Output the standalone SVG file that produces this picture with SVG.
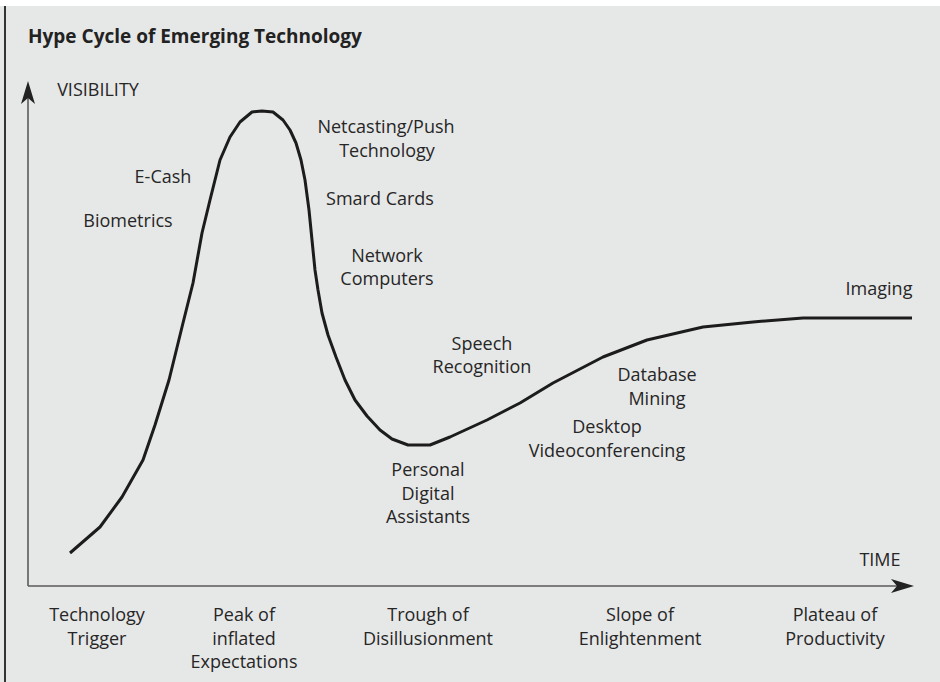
<svg xmlns="http://www.w3.org/2000/svg" width="940" height="682" viewBox="0 0 940 682">
<defs>
<style>
.lbl{font-family:"Open Sans","Noto Sans","Liberation Sans",sans-serif;font-size:18px;fill:#262626;text-anchor:middle}
.ttl{font-family:"Open Sans","Noto Sans","Liberation Sans",sans-serif;font-size:19px;font-weight:bold;fill:#222}
.axis{stroke:#5a5a5a;stroke-width:1.6;fill:none}
.curve{stroke:#1c1c1c;stroke-width:3;fill:none;stroke-linejoin:round;stroke-linecap:butt}
</style>
<marker id="arr" viewBox="-24 -8 26 16" markerWidth="26" markerHeight="16" refX="-11" refY="0" orient="auto" markerUnits="userSpaceOnUse">
<path d="M0,0 L-23,-7 L-17,0 L-23,7 Z" fill="#222"/>
</marker>
</defs>
<rect x="0" y="0" width="940" height="682" fill="#ffffff"/>
<rect x="0" y="6" width="940" height="676" fill="#e6e8e7"/>
<line x1="5" y1="6" x2="5" y2="682" stroke="#333" stroke-width="2"/>
<text class="ttl" x="28" y="43">Hype Cycle of Emerging Technology</text>
<g id="connectors">
<line class="axis" x1="28" y1="586" x2="28" y2="92" marker-end="url(#arr)"/>
<line class="axis" x1="28" y1="586" x2="903" y2="586" marker-end="url(#arr)"/>
<polyline class="curve" points="70,553 100,527 122,497 143,460 155,425 169,380 183,323 193,283 202,233 210,200 220,160 230,137 240,122 252,112 262,111 273,112 283,120 290,130 296,143 301,160 305,180 309,210 312,240 315,270 318,290 322,313 328,335 336,357 345,380 355,400 367,416 380,430 392,439 408,445 430,445 450,437 487,420 520,403 553,383 603,357 647,340 703,327 753,322 803,318 912,318"/>
</g>
<g id="axis-labels">
<text class="lbl" x="98" y="96">VISIBILITY</text>
<text class="lbl" x="880" y="566">TIME</text>
</g>
<g id="tech-labels">
<g id="netcasting"><text class="lbl" x="386" y="133">Netcasting/Push</text><text class="lbl" x="387" y="157">Technology</text></g>
<g id="smartcards"><text class="lbl" x="380" y="205">Smard Cards</text></g>
<g id="ecash"><text class="lbl" x="163" y="183">E-Cash</text></g>
<g id="biometrics"><text class="lbl" x="128" y="227">Biometrics</text></g>
<g id="netcomputers"><text class="lbl" x="387" y="262">Network</text><text class="lbl" x="387" y="285">Computers</text></g>
<g id="speech"><text class="lbl" x="482" y="350">Speech</text><text class="lbl" x="482" y="373">Recognition</text></g>
<g id="pda"><text class="lbl" x="428" y="476">Personal</text><text class="lbl" x="428" y="500">Digital</text><text class="lbl" x="428" y="523">Assistants</text></g>
<g id="dbmining"><text class="lbl" x="657" y="381">Database</text><text class="lbl" x="657" y="405">Mining</text></g>
<g id="desktopvc"><text class="lbl" x="607" y="433">Desktop</text><text class="lbl" x="607" y="457">Videoconferencing</text></g>
<g id="imaging"><text class="lbl" x="879" y="295">Imaging</text></g>
</g>
<g id="phases">
<g id="trigger"><text class="lbl" x="97" y="621">Technology</text><text class="lbl" x="97" y="645">Trigger</text></g>
<g id="peak"><text class="lbl" x="244" y="621">Peak of</text><text class="lbl" x="244" y="645">inflated</text><text class="lbl" x="244" y="668">Expectations</text></g>
<g id="trough"><text class="lbl" x="428" y="621">Trough of</text><text class="lbl" x="428" y="645">Disillusionment</text></g>
<g id="slope"><text class="lbl" x="640" y="621">Slope of</text><text class="lbl" x="640" y="645">Enlightenment</text></g>
<g id="plateau"><text class="lbl" x="835" y="621">Plateau of</text><text class="lbl" x="835" y="645">Productivity</text></g>
</g>
</svg>
